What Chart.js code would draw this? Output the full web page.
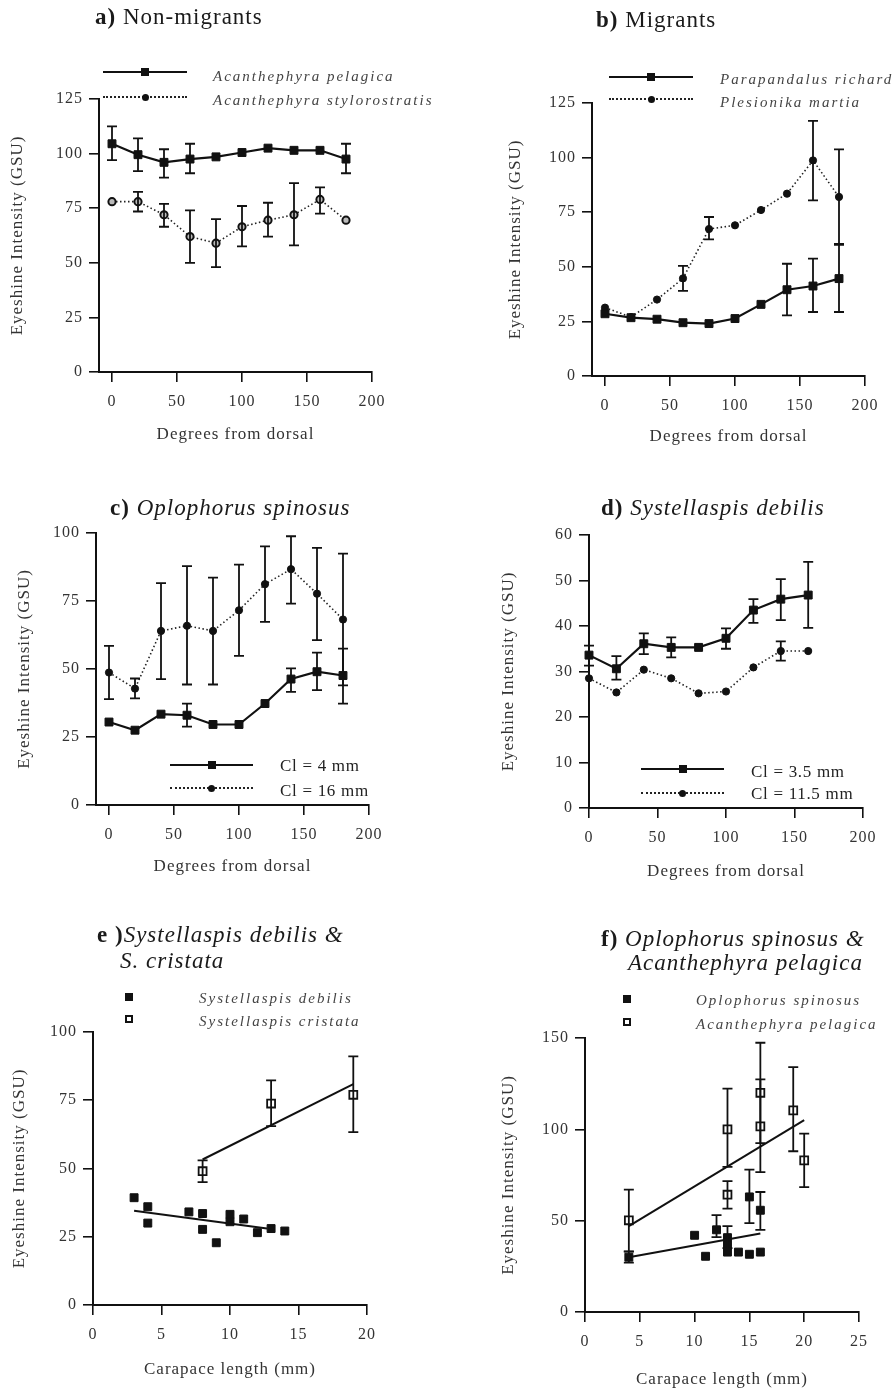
<!DOCTYPE html>
<html>
<head>
<meta charset="utf-8">
<script src="https://cdn.jsdelivr.net/npm/chart.js@4.4.1/dist/chart.umd.min.js"></script>
<style>
  body { margin: 0; background: #fff; width: 892px; height: 1392px; position: relative; overflow: hidden;
         font-family: "Liberation Serif", "DejaVu Serif", serif; color: #1a1a1a; }
  canvas { position: absolute; }
  .t { position: absolute; font-size: 23px; line-height: 24px; white-space: nowrap; letter-spacing: 1px; }
  .lt { position: absolute; font-size: 15px; line-height: 18px; white-space: nowrap; font-style: italic; color: #444; letter-spacing: 2px; }
  .lt.n { font-style: normal; font-size: 17px; letter-spacing: 0.7px; color: #222; }
  .ln { position: absolute; height: 0; border-top: 2.5px solid #111; }
  .ln.dot { border-top: 2px dotted #222; }
  .mk { position: absolute; background: #111; }
</style>
</head>
<body>
<canvas id="chartA" width="446" height="460" style="left:0;top:0"></canvas>
<canvas id="chartB" width="446" height="460" style="left:446px;top:0"></canvas>
<canvas id="chartC" width="446" height="440" style="left:0;top:460px"></canvas>
<canvas id="chartD" width="446" height="440" style="left:446px;top:460px"></canvas>
<canvas id="chartE" width="446" height="492" style="left:0;top:900px"></canvas>
<canvas id="chartF" width="446" height="492" style="left:446px;top:900px"></canvas>

<div class="t" style="left:95px;top:5px"><b>a)</b> Non-migrants</div>
<div class="t" style="left:596px;top:8px"><b>b)</b> Migrants</div>
<div class="t" style="left:110px;top:496px"><b>c)</b> <i>Oplophorus spinosus</i></div>
<div class="t" style="left:601px;top:496px"><b>d)</b> <i>Systellaspis debilis</i></div>
<div class="t" style="left:97px;top:923px"><b>e )</b><i>Systellaspis debilis &amp;</i></div>
<div class="t" style="left:120px;top:949px"><i>S. cristata</i></div>
<div class="t" style="left:601px;top:927px"><b>f)</b> <i>Oplophorus spinosus &amp;</i></div>
<div class="t" style="left:628px;top:951px"><i>Acanthephyra pelagica</i></div>

<div class="lt" style="left:213px;top:67px">Acanthephyra pelagica</div>
<div class="lt" style="left:213px;top:91px">Acanthephyra stylorostratis</div>
<div class="lt" style="left:720px;top:70px">Parapandalus richardi</div>
<div class="lt" style="left:720px;top:93px">Plesionika martia</div>
<div class="lt n" style="left:280px;top:757px">Cl = 4 mm</div>
<div class="lt n" style="left:280px;top:782px">Cl = 16 mm</div>
<div class="lt n" style="left:751px;top:763px">Cl = 3.5 mm</div>
<div class="lt n" style="left:751px;top:785px">Cl = 11.5 mm</div>
<div class="lt" style="left:199px;top:989px">Systellaspis debilis</div>
<div class="lt" style="left:199px;top:1012px">Systellaspis cristata</div>
<div class="lt" style="left:696px;top:991px">Oplophorus spinosus</div>
<div class="lt" style="left:696px;top:1015px">Acanthephyra pelagica</div>

<script>
// a) non-migrants
const degA = [0, 20, 40, 60, 80, 100, 120, 140, 160, 180];
const pelagicaA = [104.5, 99.5, 96, 97.5, 98.5, 100.5, 102.5, 101.5, 101.5, 97.5];
const pelagicaLoA = [97, 92, 89, 91, null, null, null, null, null, 91];
const pelagicaHiA = [112.5, 107, 102, 104.5, null, null, null, null, null, 104.5];
const styloA = [78, 78, 72, 62, 59, 66.5, 69.5, 72, 79, 69.5];
const styloLoA = [null, 73.5, 66.5, 50, 48, 57.5, 62, 58, 72.5, null];
const styloHiA = [null, 82.5, 77, 74, 70, 76, 77.5, 86.5, 84.5, null];

// b) migrants
const degB = [0, 20, 40, 60, 80, 100, 120, 140, 160, 180];
const richardiB = [28.5, 26.7, 26, 24.4, 24, 26.3, 32.8, 39.5, 41.2, 44.6];
const richardiLoB = [null, null, null, null, null, null, null, 27.8, 29.3, 29.3];
const richardiHiB = [null, null, null, null, null, null, null, 51.4, 53.7, 60];
const martiaB = [31.3, 27, 35, 44.7, 67.3, 69, 76, 83.5, 98.7, 82];
const martiaLoB = [null, null, null, 39, 62.6, null, null, null, 80.4, 60.5];
const martiaHiB = [null, null, null, 50.4, 72.8, null, null, null, 116.8, 103.8];

// c) Oplophorus spinosus
const degC = [0, 20, 40, 60, 80, 100, 120, 140, 160, 180];
const cl4C = [30.5, 27.5, 33.4, 33, 29.6, 29.6, 37.3, 46.3, 49, 47.6];
const cl4LoC = [null, null, null, 28.8, null, null, null, 41.6, 42.2, 37.3];
const cl4HiC = [null, null, null, 37.3, null, null, null, 50.2, 56, 57.5];
const cl16C = [48.7, 42.8, 64, 65.9, 64, 71.6, 81.2, 86.7, 77.7, 68.2];
const cl16LoC = [38.9, 39.2, 46.3, 44.3, 44.3, 54.8, 67.3, 74, 60.6, 44];
const cl16HiC = [58.5, 46.5, 81.6, 87.8, 83.6, 88.4, 95.1, 98.8, 94.5, 92.4];

// d) Systellaspis debilis
const degD = [0, 20, 40, 60, 80, 100, 120, 140, 160];
const cl35D = [33.6, 30.6, 36.1, 35.3, 35.3, 37.3, 43.5, 45.9, 46.8];
const cl35LoD = [31.3, 28.2, 33.8, 33.1, null, 35, 40.7, 41.3, 39.6];
const cl35HiD = [35.7, 33.4, 38.4, 37.5, null, 39.5, 45.9, 50.3, 54.1];
const cl115D = [28.5, 25.4, 30.4, 28.5, 25.2, 25.6, 30.9, 34.5, 34.5];
const cl115LoD = [null, null, null, null, null, null, null, 32.4, null];
const cl115HiD = [null, null, null, null, null, null, null, 36.6, null];

// e) S. debilis & S. cristata
const debilisLenE = [3, 4, 4, 7, 8, 8, 9, 10, 10, 11, 12, 13, 14];
const debilisE = [39.3, 36, 30, 34.1, 33.5, 27.7, 22.8, 33.2, 30.5, 31.5, 26.5, 28, 27.1];
const cristataLenE = [8, 13, 19];
const cristataE = [49, 73.8, 77];
const cristataLoE = [45, 65.5, 63.3];
const cristataHiE = [53, 82.3, 91.1];
const debilisFitX = [3, 12.7];
const debilisFitY = [34.5, 28];
const cristataFitX = [8, 19];
const cristataFitY = [53.3, 80.9];

// f) O. spinosus & A. pelagica
const spinosusLenF = [4, 10, 11, 12, 13, 13, 13, 14, 15, 15, 16, 16];
const spinosusF = [30, 42, 30.5, 45, 40.7, 36.5, 32.8, 32.8, 31.6, 63, 32.8, 55.7];
const spinosusLoF = [27, null, null, 41, 35, null, null, null, null, 48.7, null, 45];
const spinosusHiF = [33, null, null, 53, 47, null, null, null, null, 77.9, null, 65.7];
const pelagicaLenF = [4, 13, 13, 16, 16, 19, 20];
const pelagicaF = [50.2, 100, 64.2, 120, 101.6, 110.4, 83];
const pelagicaLoF = [33.2, 79.4, 56.6, 92.5, 76.6, 88, 68.4];
const pelagicaHiF = [67, 122.3, 71.7, 147.4, 127.4, 134.1, 97.6];
const spinosusFitX = [4, 16];
const spinosusFitY = [30, 43];
const pelagicaFitX = [4, 20];
const pelagicaFitY = [47, 105];

const INK = '#111';
const TICK_FONT = { family: "'Liberation Serif', 'DejaVu Serif', serif", size: 16, lineHeight: 1.2 };
const TITLE_FONT = { family: "'Liberation Serif', 'DejaVu Serif', serif", size: 17, lineHeight: 1.2 };
const HALF = 10.2; // half of axis title line height

const pts = (xs, ys) => xs.map((x, i) => ({ x: x, y: ys[i] }));

function solid(xs, ys, lo, hi) {
  return { data: pts(xs, ys), showLine: true, clip: false, borderColor: INK, borderWidth: 2.2,
           pointStyle: 'rect', pointRadius: 5.6, pointBackgroundColor: INK, pointBorderColor: INK, pointBorderWidth: 1,
           errLo: lo, errHi: hi };
}
function dotted(xs, ys, lo, hi, ring) {
  return { data: pts(xs, ys), showLine: true, clip: false, borderColor: '#222', borderWidth: 1.6, borderDash: [1.5, 2.5],
           pointStyle: 'circle', pointRadius: 3.6, pointBackgroundColor: ring ? '#bbb' : INK,
           pointBorderColor: INK, pointBorderWidth: ring ? 2 : 1, errLo: lo, errHi: hi };
}
function marks(xs, ys, lo, hi, open) {
  return { data: pts(xs, ys), showLine: false, clip: false, pointStyle: 'rect', pointRadius: 5.6,
           pointBackgroundColor: open ? '#fff' : INK, pointBorderColor: INK, pointBorderWidth: open ? 1.8 : 1,
           errLo: lo, errHi: hi };
}
function fit(xs, ys) {
  return { data: pts(xs, ys), showLine: true, clip: false, borderColor: INK, borderWidth: 2, pointRadius: 0 };
}

// draws vertical error bars with caps from errLo / errHi of each dataset
const errorBars = {
  id: 'errorBars',
  afterDatasetsDraw(chart) {
    const ctx = chart.ctx, xs = chart.scales.x, ys = chart.scales.y;
    chart.data.datasets.forEach(ds => {
      if (!ds.errLo) return;
      ctx.save();
      ctx.strokeStyle = INK;
      ctx.lineWidth = 1.8;
      ds.data.forEach((p, i) => {
        const lo = ds.errLo[i], hi = ds.errHi[i];
        if (lo == null || hi == null) return;
        const x = xs.getPixelForValue(p.x);
        const y1 = ys.getPixelForValue(lo), y2 = ys.getPixelForValue(hi);
        ctx.beginPath();
        ctx.moveTo(x, y1); ctx.lineTo(x, y2);
        ctx.moveTo(x - 5, y1); ctx.lineTo(x + 5, y1);
        ctx.moveTo(x - 5, y2); ctx.lineTo(x + 5, y2);
        ctx.stroke();
      });
      ctx.restore();
    });
  }
};

// the scanned type is loosely spaced
const spacing = {
  id: 'spacing',
  beforeDraw(chart) { chart.ctx.letterSpacing = '1px'; }
};

function makeChart(id, o) {
  const cv = document.getElementById(id);
  const W = cv.width, H = cv.height;
  const padL = o.yTitleX - HALF;
  const axisStyle = {
    grid: { drawOnChartArea: false, drawTicks: true, tickLength: 10, color: INK, lineWidth: 1.6 },
    border: { color: INK, width: 2 },
  };
  return new Chart(cv, {
    type: 'scatter',
    data: { datasets: o.datasets },
    options: {
      responsive: false,
      animation: false,
      devicePixelRatio: 1,
      layout: { padding: { left: padL, top: o.top, right: W - o.right, bottom: H - o.xTitleY - HALF } },
      plugins: { legend: { display: false }, tooltip: { enabled: false } },
      scales: {
        x: Object.assign({
          type: 'linear', min: o.xMin, max: o.xMax,
          afterBuildTicks: s => { s.ticks = o.xTicks.map(v => ({ value: v })); },
          afterFit: s => { s.height = o.xTitleY + HALF - o.bottom; },
          ticks: { color: '#333', font: TICK_FONT, padding: 10, maxRotation: 0 },
          title: { display: true, text: o.xTitle, color: '#333', font: TITLE_FONT, padding: 0 }
        }, axisStyle),
        y: Object.assign({
          type: 'linear', min: 0, max: o.yMax,
          afterBuildTicks: s => { s.ticks = o.yTicks.map(v => ({ value: v })); },
          afterFit: s => { s.width = o.left - padL; },
          ticks: { color: '#333', font: TICK_FONT, padding: 6 },
          title: { display: true, text: 'Eyeshine Intensity (GSU)', color: '#333', font: TITLE_FONT, padding: 0 }
        }, axisStyle)
      }
    },
    plugins: [errorBars, spacing]
  });
}

const degTicks = [0, 50, 100, 150, 200];

makeChart('chartA', {
  left: 99, right: 372, top: 99, bottom: 372, yTitleX: 18, xTitleY: 435,
  xMin: -10, xMax: 200, xTicks: degTicks, yMax: 125, yTicks: [0, 25, 50, 75, 100, 125],
  xTitle: 'Degrees from dorsal',
  datasets: [solid(degA, pelagicaA, pelagicaLoA, pelagicaHiA), dotted(degA, styloA, styloLoA, styloHiA, true)]
});

makeChart('chartB', {
  left: 146, right: 419, top: 103, bottom: 376, yTitleX: 70, xTitleY: 437,
  xMin: -10, xMax: 200, xTicks: degTicks, yMax: 125, yTicks: [0, 25, 50, 75, 100, 125],
  xTitle: 'Degrees from dorsal',
  datasets: [solid(degB, richardiB, richardiLoB, richardiHiB), dotted(degB, martiaB, martiaLoB, martiaHiB)]
});

makeChart('chartC', {
  left: 96, right: 369, top: 73, bottom: 345, yTitleX: 25, xTitleY: 407,
  xMin: -10, xMax: 200, xTicks: degTicks, yMax: 100, yTicks: [0, 25, 50, 75, 100],
  xTitle: 'Degrees from dorsal',
  datasets: [solid(degC, cl4C, cl4LoC, cl4HiC), dotted(degC, cl16C, cl16LoC, cl16HiC)]
});

makeChart('chartD', {
  left: 143, right: 417, top: 75, bottom: 348, yTitleX: 63, xTitleY: 412,
  xMin: 0, xMax: 200, xTicks: degTicks, yMax: 60, yTicks: [0, 10, 20, 30, 40, 50, 60],
  xTitle: 'Degrees from dorsal',
  datasets: [solid(degD, cl35D, cl35LoD, cl35HiD), dotted(degD, cl115D, cl115LoD, cl115HiD)]
});

makeChart('chartE', {
  left: 93, right: 367, top: 132, bottom: 405, yTitleX: 20, xTitleY: 470,
  xMin: 0, xMax: 20, xTicks: [0, 5, 10, 15, 20], yMax: 100, yTicks: [0, 25, 50, 75, 100],
  xTitle: 'Carapace length (mm)',
  datasets: [fit(debilisFitX, debilisFitY), fit(cristataFitX, cristataFitY),
             marks(debilisLenE, debilisE), marks(cristataLenE, cristataE, cristataLoE, cristataHiE, true)]
});

makeChart('chartF', {
  left: 139, right: 413, top: 138, bottom: 412, yTitleX: 63, xTitleY: 480,
  xMin: 0, xMax: 25, xTicks: [0, 5, 10, 15, 20, 25], yMax: 150, yTicks: [0, 50, 100, 150],
  xTitle: 'Carapace length (mm)',
  datasets: [fit(spinosusFitX, spinosusFitY), fit(pelagicaFitX, pelagicaFitY),
             marks(spinosusLenF, spinosusF, spinosusLoF, spinosusHiF),
             marks(pelagicaLenF, pelagicaF, pelagicaLoF, pelagicaHiF, true)]
});

// legend samples (line + marker), drawn as plain elements
function legendSample(x1, x2, y, style, marker) {
  const ln = document.createElement('div');
  ln.className = 'ln' + (style === 'dot' ? ' dot' : '');
  ln.style.left = x1 + 'px';
  ln.style.top = (y - 1) + 'px';
  ln.style.width = (x2 - x1) + 'px';
  document.body.appendChild(ln);
  addMarker((x1 + x2) / 2, y, marker);
}
function addMarker(x, y, marker) {
  const mk = document.createElement('div');
  mk.className = 'mk';
  const s = marker === 'ci' ? 7 : 8;
  mk.style.left = (x - s / 2) + 'px';
  mk.style.top = (y - s / 2) + 'px';
  mk.style.width = s + 'px';
  mk.style.height = s + 'px';
  if (marker === 'ci') mk.style.borderRadius = '50%';
  if (marker === 'open') { mk.style.background = '#fff'; mk.style.border = '2px solid #111'; mk.style.width = mk.style.height = '4px'; }
  document.body.appendChild(mk);
}
legendSample(103, 187, 72, 'solid', 'sq');
legendSample(103, 187, 97, 'dot', 'ci');
legendSample(609, 693, 77, 'solid', 'sq');
legendSample(609, 693, 99, 'dot', 'ci');
legendSample(170, 253, 765, 'solid', 'sq');
legendSample(170, 253, 788, 'dot', 'ci');
legendSample(641, 724, 769, 'solid', 'sq');
legendSample(641, 724, 793, 'dot', 'ci');
addMarker(129, 997, 'sq');
addMarker(129, 1019, 'open');
addMarker(627, 999, 'sq');
addMarker(627, 1022, 'open');
</script>
</body>
</html>
